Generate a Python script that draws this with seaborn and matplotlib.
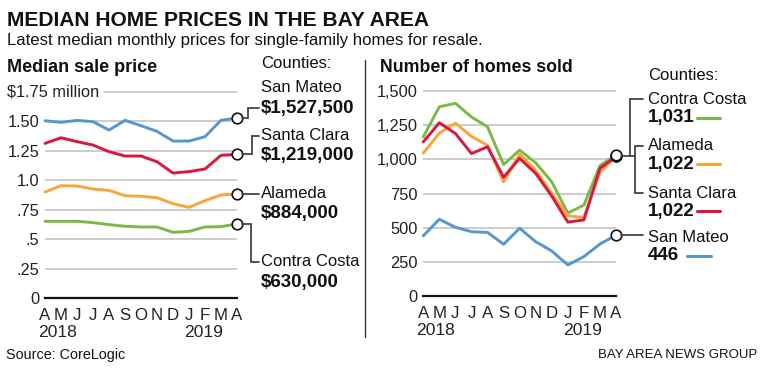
import numpy as np
import pandas as pd
import matplotlib
matplotlib.use("Agg")
import matplotlib.pyplot as plt
import seaborn as sns
from matplotlib.lines import Line2D
from matplotlib import font_manager

# ---------------- data ----------------
months = ["A", "M", "J", "J", "A", "S", "O", "N", "D", "J", "F", "M", "A"]
years = ["2018", "2019"]
counties = ["San Mateo", "Santa Clara", "Alameda", "Contra Costa"]

# median sale price, $ millions
price_san_mateo = [1.504, 1.490, 1.507, 1.496, 1.425, 1.507, 1.462, 1.414, 1.332, 1.332, 1.369, 1.508, 1.5275]
price_santa_clara = [1.312, 1.360, 1.327, 1.298, 1.242, 1.205, 1.205, 1.157, 1.061, 1.073, 1.095, 1.211, 1.219]
price_alameda = [0.900, 0.954, 0.951, 0.926, 0.914, 0.869, 0.864, 0.852, 0.802, 0.770, 0.827, 0.875, 0.884]
price_contra_costa = [0.652, 0.652, 0.652, 0.641, 0.624, 0.610, 0.604, 0.604, 0.559, 0.567, 0.604, 0.607, 0.630]

# number of homes sold
sold_san_mateo = [442, 563, 504, 472, 467, 380, 497, 399, 331, 229, 290, 382, 446]
sold_santa_clara = [1128, 1268, 1190, 1043, 1092, 870, 1008, 898, 732, 542, 558, 935, 1022]
sold_alameda = [1046, 1192, 1265, 1168, 1103, 836, 1039, 922, 751, 588, 576, 905, 1022]
sold_contra_costa = [1165, 1385, 1410, 1310, 1238, 963, 1068, 975, 836, 608, 666, 955, 1031]

latest_price = [1527500, 1219000, 884000, 630000]
latest_sold = [446, 1022, 1022, 1031]

price_ticks = [0, 0.25, 0.5, 0.75, 1.0, 1.25, 1.5]
price_ticklabels = ["0", ".25", ".5", ".75", "1.0", "1.25", "1.50"]
sold_ticks = [0, 250, 500, 750, 1000, 1250, 1500]
sold_ticklabels = ["0", "250", "500", "750", "1,000", "1,250", "1,500"]

colors = {"San Mateo": "#5597d1", "Santa Clara": "#d9173f",
          "Alameda": "#f8a53a", "Contra Costa": "#7cb846"}

# ---------------- style ----------------
sns.set_theme(style="white")
avail = {f.name for f in font_manager.fontManager.ttflist}
BASE = "Liberation Sans" if "Liberation Sans" in avail else "DejaVu Sans"
NARROW = "Liberation Sans Narrow" if "Liberation Sans Narrow" in avail else BASE
plt.rcParams["font.family"] = [BASE, "DejaVu Sans"]
plt.rcParams["text.color"] = "#111111"

W, H = 762, 372
fig = plt.figure(figsize=(W / 100, H / 100), dpi=100)
fig.patch.set_facecolor("white")
renderer = fig.canvas.get_renderer()


def fx(x):
    return x / W


def fy(y):
    return 1 - y / H


def ftext(x, y, s, width=None, **kw):
    kw.setdefault("va", "center")
    kw.setdefault("ha", "left")
    t = fig.text(fx(x), fy(y), s, **kw)
    if width is not None:
        for _ in range(3):
            w = t.get_window_extent(renderer).width
            t.set_fontsize(t.get_fontsize() * width / w)
    return t


def pline(pts, color="#444444", lw=1.3):
    xs = [fx(p[0]) for p in pts]
    ys = [fy(p[1]) for p in pts]
    fig.add_artist(Line2D(xs, ys, transform=fig.transFigure, color=color, lw=lw,
                          solid_joinstyle="miter", zorder=5))


def build_long(series_list):
    rows = []
    for name, vals in zip(counties, series_list):
        for i, v in enumerate(vals):
            rows.append({"month": i, "value": v, "county": name})
    return pd.DataFrame(rows)


df_price = build_long([price_san_mateo, price_santa_clara, price_alameda, price_contra_costa])
df_sold = build_long([sold_san_mateo, sold_santa_clara, sold_alameda, sold_contra_costa])

# axes geometry in pixels
L_x0, L_x1, L_y0 = 45, 237, 298.3
L_ppu = (298.3 - 91.7) / 1.75
L_ymax = 1.8
R_x0, R_x1, R_y0 = 423.3, 616, 296.3
R_ppu = (296.3 - 91.0) / 1500
R_ymax = 1560

axL = fig.add_axes([fx(L_x0), fy(L_y0), (L_x1 - L_x0) / W, L_ymax * L_ppu / H])
axR = fig.add_axes([fx(R_x0), fy(R_y0), (R_x1 - R_x0) / W, R_ymax * R_ppu / H])

TICK_FS = 11.8
for ax, df, ylim, yt, ytl in [(axL, df_price, L_ymax, price_ticks, price_ticklabels),
                              (axR, df_sold, R_ymax, sold_ticks, sold_ticklabels)]:
    sns.lineplot(data=df, x="month", y="value", hue="county", palette=colors,
                 hue_order=counties[::-1], linewidth=2.1, legend=False, ax=ax,
                 clip_on=False, zorder=3)
    ax.set_xlim(0, 12)
    ax.set_ylim(0, ylim)
    ax.set_facecolor("none")
    ax.set_xlabel("")
    ax.set_ylabel("")
    ax.set_yticks(yt)
    ax.set_yticklabels(ytl)
    ax.set_xticks(range(len(months)))
    ax.set_xticklabels(months)
    ax.grid(axis="y", color="#cccccc", linewidth=1.4, zorder=0)
    ax.grid(axis="x", visible=False)
    for s in ["top", "right", "left"]:
        ax.spines[s].set_visible(False)
    ax.spines["bottom"].set_color("#111111")
    ax.spines["bottom"].set_linewidth(1.6)
    ax.spines["bottom"].set_zorder(4)
    ax.tick_params(axis="y", length=0, pad=4, labelsize=TICK_FS, labelcolor="#222222")
    ax.tick_params(axis="x", length=4, width=1.2, direction="out", color="#111111",
                   pad=3, labelsize=TICK_FS + 0.4, labelcolor="#222222")
    for xpos, yr in [(-0.45, years[0]), (8.7, years[1])]:
        ax.text(xpos, -0.16, yr, transform=ax.get_xaxis_transform(),
                ha="left", va="center", fontsize=TICK_FS + 0.8, color="#222222")

# $1.75 million label and its gridline
t175 = ftext(7, 92, "$1.75 million", fontsize=TICK_FS, color="#222222")
x_end = t175.get_window_extent(renderer).x1 + 5
axL.axhline(1.75, xmin=(x_end - L_x0) / (L_x1 - L_x0), xmax=1, color="#cccccc", lw=1.4, zorder=0)

# end-point circles
last_price = [price_san_mateo[-1], price_santa_clara[-1], price_alameda[-1], price_contra_costa[-1]]
last_sold = [sold_san_mateo[-1], sold_santa_clara[-1], sold_alameda[-1], sold_contra_costa[-1]]
axL.scatter([12] * 4, last_price, s=58, facecolor="white", edgecolor="#111111",
            linewidth=1.2, zorder=6, clip_on=False)
axR.scatter([12] * 4, last_sold, s=58, facecolor="white", edgecolor="#111111",
            linewidth=1.2, zorder=6, clip_on=False)

# ---------------- titles ----------------
ftext(7, 21, "MEDIAN HOME PRICES IN THE BAY AREA", width=420, fontweight="heavy", color="#111111")
ftext(7, 40, "Latest median monthly prices for single-family homes for resale.", width=474, color="#111111")
ftext(7, 68, "Median sale price", width=150, fontweight="bold")
ftext(380, 68, "Number of homes sold", width=193, fontweight="bold")

# separator
pline([(365, 60), (365, 337)], color="#333333", lw=1.0)

# ---------------- labels ----------------
LAB_FS = 12
VAL_FS = 13.5


def ly(v):
    return L_y0 - v * L_ppu


def ry(v):
    return R_y0 - v * R_ppu


ftext(261, 64, "Counties:", fontsize=LAB_FS)
ftext(261, 87, "San Mateo", fontsize=LAB_FS)
ftext(261, 108, f"${latest_price[0]:,}", fontsize=VAL_FS, fontweight="bold")
ftext(261, 136, "Santa Clara", fontsize=LAB_FS)
ftext(261, 155, f"${latest_price[1]:,}", fontsize=VAL_FS, fontweight="bold")
ftext(261, 194, "Alameda", fontsize=LAB_FS)
ftext(261, 213, f"${latest_price[2]:,}", fontsize=VAL_FS, fontweight="bold")
ftext(261, 262, "Contra Costa", fontsize=LAB_FS)
ftext(261, 282, f"${latest_price[3]:,}", fontsize=VAL_FS, fontweight="bold")

y = ly(last_price[0]); pline([(242, y), (248, y), (248, 108), (259, 108)])
y = ly(last_price[1]); pline([(242, y), (252, y), (252, 136), (259, 136)])
y = ly(last_price[2]); pline([(242, y), (259, y)])
y = ly(last_price[3]); pline([(242, y), (251, y), (251, 262), (259, 262)])

ftext(648, 75, "Counties:", fontsize=LAB_FS)
ftext(648, 99, "Contra Costa", fontsize=LAB_FS)
ftext(648, 118, f"{latest_sold[3]:,}", fontsize=VAL_FS, fontweight="bold")
ftext(648, 146, "Alameda", fontsize=LAB_FS)
ftext(648, 164, f"{latest_sold[2]:,}", fontsize=VAL_FS, fontweight="bold")
ftext(648, 193, "Santa Clara", fontsize=LAB_FS)
ftext(648, 211, f"{latest_sold[1]:,}", fontsize=VAL_FS, fontweight="bold")
ftext(648, 237, "San Mateo", fontsize=LAB_FS)
ftext(648, 256, f"{latest_sold[0]:,}", fontsize=VAL_FS, fontweight="bold")

pline([(697, 118), (720, 118)], color=colors["Contra Costa"], lw=2.2)
pline([(697, 164), (720, 164)], color=colors["Alameda"], lw=2.2)
pline([(697, 211), (720, 211)], color=colors["Santa Clara"], lw=2.2)
pline([(687, 256), (711, 256)], color=colors["San Mateo"], lw=2.2)

yc = ry(last_sold[2])
pline([(621, yc), (635, yc)])
pline([(643, 99), (630, 99), (630, yc)])
pline([(643, 146), (635, 146), (635, 193), (643, 193)])
y = ry(last_sold[0]); pline([(621, y), (643, y)])

# ---------------- footer ----------------
ftext(6, 355, "Source: CoreLogic", width=120, family=[NARROW, "DejaVu Sans"])
ftext(757, 355, "BAY AREA NEWS GROUP", fontsize=9.5, ha="right", family=[NARROW, "DejaVu Sans"])

fig.savefig("out.png", dpi=100, facecolor="white")
